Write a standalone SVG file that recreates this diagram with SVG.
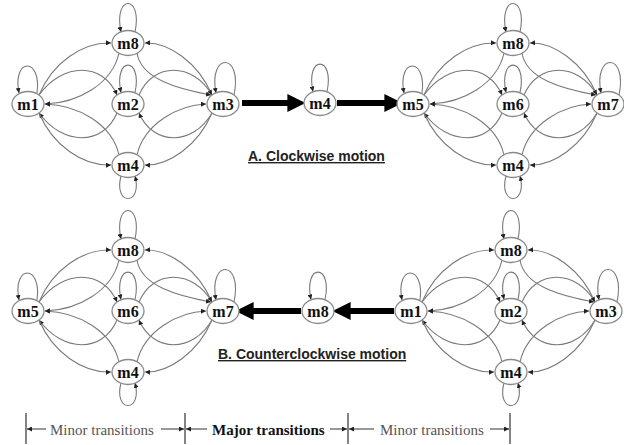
<svg xmlns="http://www.w3.org/2000/svg" xmlns:xlink="http://www.w3.org/1999/xlink" width="624" height="445" viewBox="0 0 624 445">
<style>
.bg{fill:#fff}
.node ellipse{fill:#fff;stroke:#8a8a8a;stroke-width:1.3}
.node text{font-family:"Liberation Serif","Times New Roman",serif;font-weight:bold;font-size:16px;fill:#111;text-anchor:middle}
.edge{fill:none;stroke:#7a7a7a;stroke-width:1.1;marker-end:url(#ah)}
.thick{fill:none;stroke:#000;stroke-width:6}
.cap{font-family:"Liberation Sans",Arial,sans-serif;font-weight:bold;font-size:14px;fill:#222;text-decoration:underline}
.scale{stroke:#333;stroke-width:1.2;fill:none}
.sarrow{stroke:#333;stroke-width:1;fill:none;marker-end:url(#sh)}
.minor{font-family:"Liberation Serif","Times New Roman",serif;font-size:15px;fill:#555}
.major{font-family:"Liberation Serif","Times New Roman",serif;font-size:15px;font-weight:bold;fill:#111}
</style>
<defs>
<marker id="ah" viewBox="0 0 10 10" refX="10" refY="5" markerWidth="5" markerHeight="5" markerUnits="userSpaceOnUse" orient="auto"><path d="M0,0 L10,5 L0,10 z" fill="#222"/></marker>
<marker id="sh" viewBox="0 0 10 10" refX="10" refY="5" markerWidth="5" markerHeight="5" markerUnits="userSpaceOnUse" orient="auto"><path d="M0,0 L10,5 L0,10 z" fill="#222"/></marker>
<marker id="big" viewBox="0 0 10 10" refX="2" refY="5" markerWidth="3" markerHeight="3.4" orient="auto"><path d="M0,0 L10,5 L0,10 z" fill="#000"/></marker>
<g id="cl">
<path class="edge" d="M11,-9 C25,-42 55,-62 83,-61"/>
<path class="edge" d="M91,-51 C84,-20 50,-1 17,0"/>
<path class="edge" d="M11,-9 C35,-42 75,-42 89,-9"/>
<path class="edge" d="M89,9 C75,42 35,42 11,9"/>
<path class="edge" d="M11,9 C25,42 55,62 83,61"/>
<path class="edge" d="M91,51 C84,20 50,1 17,0"/>
<path class="edge" d="M184,-9 C170,-42 140,-62 117,-61"/>
<path class="edge" d="M109,-51 C113,-25 150,-15 183,-9"/>
<path class="edge" d="M111,-9 C125,-42 165,-42 184,-9"/>
<path class="edge" d="M184,9 C165,42 125,42 111,9"/>
<path class="edge" d="M184,9 C170,42 140,62 117,61"/>
<path class="edge" d="M109,51 C116,20 150,1 178,0"/>
<path class="edge" d="M9,-11 C14,-47 -16,-47 -9,-11"/>
<path class="edge" d="M107,-72 C115,-110 85,-110 93,-72"/>
<path class="edge" d="M107,-11.5 C115,-48 85,-48 93,-11.5"/>
<path class="edge" d="M206,-9 C215,-52 180,-52 188,-11"/>
<path class="edge" d="M93,72 C85,102 115,102 107,72"/>
</g>
<path id="toploop" class="edge" d="M7,-11.5 C15,-48 -15,-48 -7,-11.5"/>
</defs>
<rect class="bg" width="624" height="445"/>
<g id="connectors">
<use xlink:href="#cl" transform="translate(28,104)"/>
<use xlink:href="#cl" transform="translate(413,104)"/>
<use xlink:href="#cl" transform="translate(28,311)"/>
<use xlink:href="#cl" transform="translate(411,311)"/>
<use xlink:href="#toploop" transform="translate(320,103)"/>
<use xlink:href="#toploop" transform="translate(318,311)"/>
<path class="thick" d="M242,103 H291" marker-end="url(#big)"/>
<path class="thick" d="M337,103 H388" marker-end="url(#big)"/>
<path class="thick" d="M394,311 H347" marker-end="url(#big)"/>
<path class="thick" d="M301,311 H250" marker-end="url(#big)"/>
</g>
<g id="cluster-A1">
<g id="a1-m1" class="node"><ellipse cx="28" cy="104" rx="16" ry="12.5"/><text x="28" y="109.5">m1</text></g>
<g id="a1-m2" class="node"><ellipse cx="128" cy="104" rx="16" ry="12.5"/><text x="128" y="109.5">m2</text></g>
<g id="a1-m3" class="node"><ellipse cx="223" cy="104" rx="16" ry="12.5"/><text x="223" y="109.5">m3</text></g>
<g id="a1-m8" class="node"><ellipse cx="128" cy="43" rx="16" ry="12.5"/><text x="128" y="48.5">m8</text></g>
<g id="a1-m4" class="node"><ellipse cx="128" cy="165" rx="16" ry="12.5"/><text x="128" y="170.5">m4</text></g>
</g>
<g id="a-m4" class="node"><ellipse cx="320" cy="103" rx="16" ry="12.5"/><text x="320" y="108.5">m4</text></g>
<g id="cluster-A2">
<g id="a2-m5" class="node"><ellipse cx="413" cy="104" rx="16" ry="12.5"/><text x="413" y="109.5">m5</text></g>
<g id="a2-m6" class="node"><ellipse cx="513" cy="104" rx="16" ry="12.5"/><text x="513" y="109.5">m6</text></g>
<g id="a2-m7" class="node"><ellipse cx="608" cy="104" rx="16" ry="12.5"/><text x="608" y="109.5">m7</text></g>
<g id="a2-m8" class="node"><ellipse cx="513" cy="43" rx="16" ry="12.5"/><text x="513" y="48.5">m8</text></g>
<g id="a2-m4" class="node"><ellipse cx="513" cy="165" rx="16" ry="12.5"/><text x="513" y="170.5">m4</text></g>
</g>
<g id="cluster-B1">
<g id="b1-m5" class="node"><ellipse cx="28" cy="311" rx="16" ry="12.5"/><text x="28" y="316.5">m5</text></g>
<g id="b1-m6" class="node"><ellipse cx="128" cy="311" rx="16" ry="12.5"/><text x="128" y="316.5">m6</text></g>
<g id="b1-m7" class="node"><ellipse cx="223" cy="311" rx="16" ry="12.5"/><text x="223" y="316.5">m7</text></g>
<g id="b1-m8" class="node"><ellipse cx="128" cy="250" rx="16" ry="12.5"/><text x="128" y="255.5">m8</text></g>
<g id="b1-m4" class="node"><ellipse cx="128" cy="372" rx="16" ry="12.5"/><text x="128" y="377.5">m4</text></g>
</g>
<g id="b-m8" class="node"><ellipse cx="318" cy="311" rx="16" ry="12.5"/><text x="318" y="316.5">m8</text></g>
<g id="cluster-B2">
<g id="b2-m1" class="node"><ellipse cx="411" cy="311" rx="16" ry="12.5"/><text x="411" y="316.5">m1</text></g>
<g id="b2-m2" class="node"><ellipse cx="511" cy="311" rx="16" ry="12.5"/><text x="511" y="316.5">m2</text></g>
<g id="b2-m3" class="node"><ellipse cx="606" cy="311" rx="16" ry="12.5"/><text x="606" y="316.5">m3</text></g>
<g id="b2-m8" class="node"><ellipse cx="511" cy="250" rx="16" ry="12.5"/><text x="511" y="255.5">m8</text></g>
<g id="b2-m4" class="node"><ellipse cx="511" cy="372" rx="16" ry="12.5"/><text x="511" y="377.5">m4</text></g>
</g>
<text class="cap" x="248" y="161">A. Clockwise motion</text>
<text class="cap" x="218" y="359">B. Counterclockwise motion</text>
<g id="scale">
<path class="scale" d="M26,413 V444 M185,413 V444 M348,413 V444 M510,413 V444"/>
<path class="sarrow" d="M46,429 H27"/>
<path class="sarrow" d="M161,429 H184"/>
<path class="sarrow" d="M207,429 H186"/>
<path class="sarrow" d="M330,429 H347"/>
<path class="sarrow" d="M374,429 H349"/>
<path class="sarrow" d="M490,429 H509"/>
<text class="minor" x="50" y="435">Minor transitions</text>
<text class="major" x="212" y="435">Major transitions</text>
<text class="minor" x="380" y="435">Minor transitions</text>
</g>
</svg>
